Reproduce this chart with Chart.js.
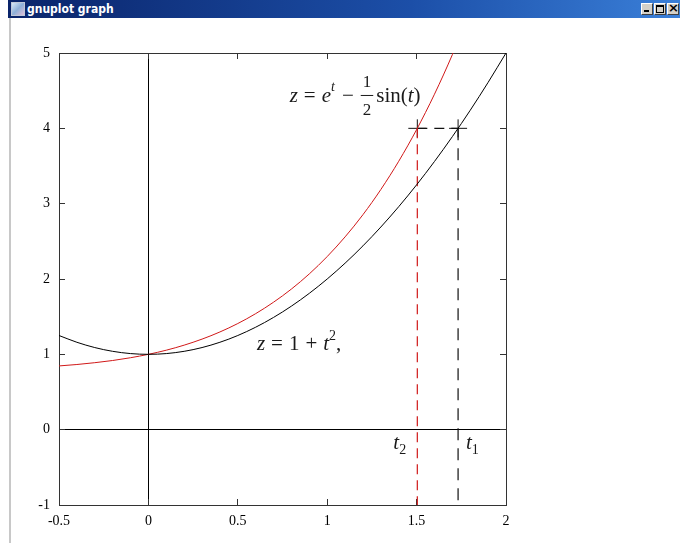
<!DOCTYPE html>
<html>
<head>
<meta charset="utf-8">
<title>gnuplot graph</title>
<script src="https://cdn.jsdelivr.net/npm/chart.js@4.4.0/dist/chart.umd.min.js"></script>
<style>
  html, body { margin: 0; padding: 0; background: #fff; }
  body { width: 680px; height: 543px; position: relative; overflow: hidden; }
  #titlebar { position: absolute; left: 8px; top: 0; right: 0; height: 18px;
              background: linear-gradient(to right, #0a246a, #1c4fa8 60%, #3a7fd8); }
  #icon { position: absolute; left: 3px; top: 2px; width: 14px; height: 14px;
          background: linear-gradient(135deg, #d8e8f8, #8fb0d8 50%, #e0c0d8); border: 1px solid #c0c8d8; box-sizing: border-box; }
  #title { position: absolute; left: 19px; top: 1px; color: #fff; font: bold 12px "Liberation Sans Narrow", "DejaVu Sans Condensed", sans-serif; line-height: 16px; }
  .btn { position: absolute; top: 3px; width: 12px; height: 12px; background: #d4d0c8;
         border-top: 1px solid #fff; border-left: 1px solid #fff; border-right: 1px solid #404040; border-bottom: 1px solid #404040; box-sizing: border-box; }
  #bmin { right: 27px; } #bmax { right: 14px; } #bclose { right: 1px; }
  #bmin::after { content: ""; position: absolute; left: 2px; bottom: 2px; width: 5px; height: 2px; background: #000; }
  #bmax::after { content: ""; position: absolute; left: 1px; top: 1px; width: 6px; height: 5px; border: 1px solid #000; border-top-width: 2px; }
  #bclose::after { content: "\00D7"; position: absolute; left: 0; top: -4px; font: bold 13px "DejaVu Sans", sans-serif; color: #000; }
  #leftedge { position: absolute; left: 9px; top: 18px; width: 2px; bottom: 0; background: #c8c8c8; }
  #graph { position: absolute; left: 0; top: 0; }
</style>
</head>
<body>
<div id="titlebar">
  <div id="icon"></div>
  <div id="title">gnuplot graph</div>
  <div class="btn" id="bmin"></div>
  <div class="btn" id="bmax"></div>
  <div class="btn" id="bclose"></div>
</div>
<div id="leftedge"></div>
<canvas id="graph" width="680" height="543"></canvas>
<script>
// sample points
const tValues   = [-0.5, -0.4, -0.3, -0.2, -0.1, 0, 0.1, 0.2, 0.3, 0.4, 0.5, 0.6, 0.7, 0.8, 0.9,
                   1.0, 1.1, 1.2, 1.3, 1.4, 1.5, 1.6, 1.7, 1.8, 1.9, 2.0];
const zParabola = [1.25, 1.16, 1.09, 1.04, 1.01, 1.00, 1.01, 1.04, 1.09, 1.16, 1.25, 1.36, 1.49, 1.64, 1.81,
                   2.00, 2.21, 2.44, 2.69, 2.96, 3.25, 3.56, 3.89, 4.24, 4.61, 5.00];
const zExpSine  = [0.846, 0.865, 0.889, 0.918, 0.955, 1.000, 1.055, 1.122, 1.202, 1.297, 1.409, 1.540, 1.692,
                   1.867, 2.068, 2.298, 2.559, 2.854, 3.188, 3.563, 3.983, 4.453, 4.978, 5.563];

// crossing of the level z = 4 with each curve
const levelZ = 4;
const t2 = 1.504;   // red curve
const t1 = 1.732;   // black curve
const bottomZ = -1;

const xTickValues = [-0.5, 0, 0.5, 1, 1.5, 2];
const yTickValues = [-1, 0, 1, 2, 3, 4, 5];

const RED = '#d01818';
const SERIF = '"Liberation Serif", "Times New Roman", serif';

function toPoints(xs, ys) {
    return ys.map((y, i) => ({ x: xs[i], y: y }));
}

function setTicks(values) {
    return scale => { scale.ticks = values.map(v => ({ value: v })); };
}

// draws a run of text pieces (italic / roman / fraction) starting at x, baseline y
function drawMath(ctx, x, y, parts) {
    parts.forEach(p => {
        if (p.gap) { x += p.gap; return; }
        if (p.frac) {
            ctx.font = '17px ' + SERIF;
            const w = Math.max(ctx.measureText(p.frac[0]).width, ctx.measureText(p.frac[1]).width) + 4;
            ctx.textAlign = 'center';
            ctx.fillText(p.frac[0], x + w / 2, y - 15);
            ctx.fillText(p.frac[1], x + w / 2, y + 13);
            ctx.textAlign = 'left';
            ctx.fillRect(x, y - 7, w, 1);
            x += w;
            return;
        }
        ctx.font = (p.i ? 'italic ' : '') + (p.size || 21) + 'px ' + SERIF;
        ctx.fillText(p.t, x, y + (p.dy || 0));
        x += ctx.measureText(p.t).width;
    });
}

const mathLabels = {
    id: 'mathLabels',
    afterDatasetsDraw(chart) {
        const ctx = chart.ctx;
        const xs = chart.scales.x, ys = chart.scales.y;
        const px = v => xs.getPixelForValue(v);
        const py = v => ys.getPixelForValue(v);
        ctx.save();
        ctx.fillStyle = '#1a1a1a';
        ctx.textBaseline = 'alphabetic';
        ctx.textAlign = 'left';
        drawMath(ctx, px(0.79), py(4.35), [
            { t: 'z', i: true }, { gap: 6 }, { t: '=' }, { gap: 6 }, { t: 'e', i: true },
            { t: 't', i: true, size: 14, dy: -11 }, { gap: 7 }, { t: '\u2212' }, { gap: 7 },
            { frac: ['1', '2'] }, { gap: 3 }, { t: 'sin(' }, { t: 't', i: true }, { t: ')' }
        ]);
        drawMath(ctx, px(0.607), py(1.06), [
            { t: 'z', i: true }, { gap: 6 }, { t: '=' }, { gap: 6 }, { t: '1' }, { gap: 6 },
            { t: '+' }, { gap: 6 }, { t: 't', i: true }, { t: '2', size: 14, dy: -10 }, { t: ',' }
        ]);
        drawMath(ctx, px(1.37), py(-0.26), [{ t: 't', i: true }, { t: '2', size: 14, dy: 5 }]);
        drawMath(ctx, px(1.776), py(-0.26), [{ t: 't', i: true }, { t: '1', size: 14, dy: 5 }]);
        ctx.restore();
    }
};

const zeroOnly = ctx => (ctx.tick && ctx.tick.value === 0) ? '#000' : 'rgba(0,0,0,0)';
const tickFont = { family: SERIF, size: 14 };
const plainLabel = v => String(v);

new Chart(document.getElementById('graph').getContext('2d'), {
    type: 'scatter',
    data: {
        datasets: [
            {
                data: toPoints(tValues, zParabola),
                showLine: true, borderColor: '#000', borderWidth: 1, pointRadius: 0,
                cubicInterpolationMode: 'monotone'
            },
            {
                data: toPoints(tValues, zExpSine),
                showLine: true, borderColor: RED, borderWidth: 1, pointRadius: 0,
                cubicInterpolationMode: 'monotone'
            },
            {
                data: [{ x: t2, y: levelZ }, { x: t2, y: bottomZ }],
                showLine: true, borderColor: RED, borderWidth: 1.2, borderDash: [10, 6], pointRadius: 0
            },
            {
                data: [{ x: t1, y: levelZ }, { x: t1, y: bottomZ }],
                showLine: true, borderColor: '#111', borderWidth: 1.2, borderDash: [12, 8], pointRadius: 0
            },
            {
                data: [{ x: t2, y: levelZ }, { x: t1, y: levelZ }],
                showLine: true, borderColor: '#111', borderWidth: 1.2, borderDash: [10, 7], pointRadius: 0
            },
            {
                data: [{ x: t2, y: levelZ }, { x: t1, y: levelZ }],
                showLine: false, pointStyle: 'cross', pointRadius: 9,
                borderColor: '#111', borderWidth: 1, backgroundColor: '#111'
            }
        ]
    },
    options: {
        responsive: false,
        animation: false,
        devicePixelRatio: 1,
        layout: { padding: { left: 14, right: 174, top: 53, bottom: 8 } },
        plugins: { legend: { display: false }, tooltip: { enabled: false } },
        scales: {
            x: {
                type: 'linear', position: 'bottom', min: -0.5, max: 2,
                afterBuildTicks: setTicks(xTickValues),
                afterFit: s => { s.height = 30; },
                ticks: { color: '#000', font: tickFont, padding: 14, maxRotation: 0, callback: plainLabel },
                grid: { color: zeroOnly, tickColor: '#333', tickLength: -6, lineWidth: 1 },
                border: { color: '#333', width: 1 }
            },
            y: {
                type: 'linear', position: 'left', min: -1, max: 5,
                afterBuildTicks: setTicks(yTickValues),
                afterFit: s => { s.width = 45; },
                ticks: { color: '#000', font: tickFont, padding: 15, callback: plainLabel },
                grid: { color: zeroOnly, tickColor: '#333', tickLength: -6, lineWidth: 1 },
                border: { color: '#333', width: 1 }
            },
            xTop: {
                type: 'linear', position: 'top', min: -0.5, max: 2,
                afterBuildTicks: setTicks(xTickValues),
                afterFit: s => { s.height = 0; },
                ticks: { display: false },
                grid: { drawOnChartArea: false, tickColor: '#333', tickLength: -6 },
                border: { color: '#333', width: 1 }
            },
            yRight: {
                type: 'linear', position: 'right', min: -1, max: 5,
                afterBuildTicks: setTicks(yTickValues),
                afterFit: s => { s.width = 0; },
                ticks: { display: false },
                grid: { drawOnChartArea: false, tickColor: '#333', tickLength: -6 },
                border: { color: '#333', width: 1 }
            }
        }
    },
    plugins: [mathLabels]
});
</script>
</body>
</html>
